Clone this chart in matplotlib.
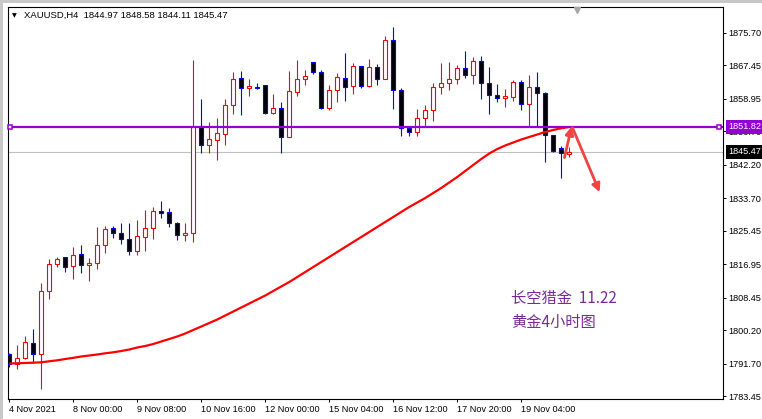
import matplotlib
matplotlib.use("Agg")
import matplotlib.pyplot as plt
import matplotlib.transforms as mtransforms
from matplotlib.patches import Rectangle

plt.rcParams['font.family'] = ['Liberation Sans', 'DejaVu Sans']

# ---------------- data ----------------
opens = [1794.12, 1791.58, 1793.03, 1796.84, 1794.20, 1810.04, 1816.89, 1818.67, 1816.39, 1819.51,
         1816.64, 1817.15, 1821.72, 1826.03, 1824.76, 1823.24, 1820.35, 1823.90, 1826.03, 1830.38,
         1830.10, 1827.30, 1824.26, 1824.76, 1852.01, 1847.11, 1848.45, 1849.90, 1857.26, 1864.12,
         1861.58, 1861.99, 1862.34, 1855.23, 1856.50, 1849.29, 1860.72, 1863.87, 1868.18, 1865.64,
         1856.65, 1861.07, 1864.12, 1862.04, 1867.17, 1862.16, 1866.91, 1863.87, 1873.77, 1861.10,
         1851.42, 1850.41, 1853.96, 1855.99, 1861.83, 1862.85, 1863.87, 1866.66, 1864.88, 1868.44,
         1862.85, 1859.80, 1858.99, 1859.37, 1863.10, 1857.52, 1861.83, 1860.31, 1849.67, 1846.35,
         1844.97]
highs = [1794.37, 1796.40, 1798.69, 1800.54, 1812.15, 1818.16, 1818.67, 1818.87, 1821.21, 1821.79,
         1818.42, 1826.29, 1826.62, 1826.62, 1827.30, 1827.30, 1828.14, 1830.68, 1831.44, 1832.97,
         1831.19, 1827.63, 1827.30, 1868.77, 1858.86, 1853.02, 1853.96, 1858.86, 1865.72, 1865.97,
         1863.87, 1863.05, 1862.42, 1860.13, 1858.10, 1865.97, 1868.77, 1866.23, 1868.26, 1866.23,
         1862.34, 1865.39, 1870.54, 1867.95, 1867.24, 1868.94, 1867.75, 1874.86, 1877.14, 1861.58,
         1851.93, 1856.33, 1857.26, 1862.88, 1868.00, 1868.18, 1867.50, 1871.05, 1869.60, 1869.86,
         1866.99, 1862.67, 1861.33, 1863.81, 1863.81, 1864.91, 1865.72, 1860.64, 1849.72, 1847.01,
         1846.60]
lows = [1790.74, 1790.39, 1792.77, 1791.76, 1785.31, 1808.01, 1816.28, 1815.02, 1813.09, 1814.76,
        1812.58, 1815.78, 1819.69, 1823.65, 1821.97, 1819.33, 1819.33, 1820.35, 1823.32, 1828.73,
        1826.24, 1823.14, 1822.81, 1822.43, 1845.23, 1845.23, 1843.38, 1847.06, 1855.18, 1854.88,
        1859.70, 1861.33, 1855.13, 1855.13, 1845.23, 1849.14, 1859.68, 1862.49, 1865.14, 1856.33,
        1856.07, 1858.18, 1858.23, 1860.01, 1861.73, 1861.83, 1862.42, 1863.82, 1856.40, 1849.55,
        1849.55, 1849.55, 1851.88, 1853.28, 1860.06, 1861.07, 1862.60, 1864.12, 1862.60, 1858.79,
        1855.06, 1858.18, 1856.83, 1858.36, 1856.07, 1851.70, 1851.88, 1842.94, 1845.36, 1838.88,
        1844.11]
closes = [1791.58, 1793.03, 1797.09, 1794.04, 1810.04, 1816.89, 1818.16, 1816.13, 1819.18, 1816.64,
          1817.22, 1821.72, 1825.78, 1824.76, 1823.24, 1820.35, 1824.08, 1826.03, 1830.38, 1830.00,
          1827.30, 1824.26, 1824.76, 1852.01, 1847.11, 1848.71, 1850.16, 1857.26, 1863.87, 1861.58,
          1862.09, 1861.73, 1855.23, 1856.50, 1849.34, 1860.89, 1863.87, 1864.63, 1865.64, 1856.65,
          1861.07, 1864.37, 1861.99, 1867.17, 1862.16, 1866.91, 1863.87, 1873.77, 1861.07, 1851.42,
          1850.41, 1853.96, 1855.99, 1861.83, 1862.85, 1863.87, 1866.66, 1864.88, 1868.44, 1862.85,
          1859.80, 1858.99, 1859.55, 1863.10, 1857.52, 1861.83, 1860.31, 1849.72, 1845.74, 1845.08,
          1845.47]
ma = [1791.71, 1791.76, 1791.84, 1791.91, 1792.01, 1792.27, 1792.52, 1792.85, 1793.15, 1793.48,
      1793.74, 1793.99, 1794.30, 1794.55, 1794.88, 1795.26, 1795.77, 1796.15, 1796.66, 1797.30,
      1797.93, 1798.57, 1799.33, 1800.22, 1801.10, 1801.99, 1802.88, 1803.90, 1804.91, 1805.93,
      1806.94, 1807.96, 1808.98, 1810.12, 1811.26, 1812.40, 1813.67, 1814.94, 1816.21, 1817.48,
      1818.75, 1820.02, 1821.29, 1822.56, 1823.83, 1825.10, 1826.37, 1827.64, 1828.91, 1830.18,
      1831.45, 1832.59, 1833.73, 1835.00, 1836.27, 1837.67, 1839.06, 1840.59, 1842.11, 1843.63,
      1845.03, 1846.17, 1847.06, 1847.82, 1848.58, 1849.22, 1849.85, 1850.49, 1851.00, 1851.43,
      1851.76]
x_label_idx = [0, 8, 16, 24, 32, 40, 48, 56, 64]
x_labels = ["4 Nov 2021", "8 Nov 00:00", "9 Nov 08:00", "10 Nov 16:00", "12 Nov 00:00",
            "15 Nov 04:00", "16 Nov 12:00", "17 Nov 20:00", "19 Nov 04:00"]
y_ticks = [1875.70, 1867.45, 1858.95, 1850.70, 1842.20, 1833.70, 1825.45, 1816.95,
           1808.45, 1800.20, 1791.70, 1783.45]
level_price = 1851.82
bid_price = 1845.47
header = "XAUUSD,H4  1844.97 1848.58 1844.11 1845.47"
note_line1 = "长空猎金  11.22"
note_line2 = "黄金4小时图"

# ---------------- figure ----------------
W, H = 762, 419
fig = plt.figure(figsize=(W / 100, H / 100), dpi=100, facecolor='white')
ax = fig.add_axes([8 / W, 1 - 398.7 / H, 714.7 / W, 391.7 / H])
ax.set_xlim(-0.1625, 89.18)
ax.set_ylim(1782.77, 1882.22)
ax.set_facecolor('white')
for s in ax.spines.values():
    s.set_color('black')
    s.set_linewidth(0.8)

# window borders
fig.patches.append(Rectangle((0, 0), 3 / W, 1, transform=fig.transFigure,
                             fc='#C8C8C8', ec='none', zorder=0))
fig.patches.append(Rectangle((0, 1 - 3 / H), 1, 3 / H, transform=fig.transFigure,
                             fc='#C8C8C8', ec='none', zorder=0))

BULL = '#FF0000'
BEAR = '#0000FF'
bw = 0.55
for i, (o, h, l, c) in enumerate(zip(opens, highs, lows, closes)):
    bull = c >= o
    col = BULL if bull else BEAR
    ax.vlines(i, l, h, color=col, lw=0.8, zorder=2)
    lo, hi = min(o, c), max(o, c)
    ax.add_patch(Rectangle((i - bw / 2, lo), bw, hi - lo,
                           fc='white' if bull else 'black', ec=col, lw=0.8, zorder=3))

# bid line
ax.axhline(bid_price, color='#C0C0C0', lw=0.8, zorder=1)
# moving average
ax.plot(range(len(ma)), ma, color='#FF0000', lw=1.6, zorder=4, solid_capstyle='butt')
# horizontal level
PURPLE = '#9400D3'
ax.axhline(level_price, color=PURPLE, lw=1.6, zorder=5)
bt = mtransforms.blended_transform_factory(ax.transAxes, ax.transData)
ax.plot([0.003, 0.995], [level_price, level_price], transform=bt, ls='none', marker='s',
        ms=3.2, mfc='white', mec=PURPLE, mew=1.1, zorder=6, clip_on=False)

# arrows
ARROW = '#F04444'
ax.annotate('', xy=(70.3, 1851.9), xytext=(69.4, 1844.0),
            arrowprops=dict(arrowstyle='-|>', color=ARROW, lw=2.0, mutation_scale=12,
                            shrinkA=0, shrinkB=0), zorder=7)
ax.annotate('', xy=(73.8, 1835.2), xytext=(70.4, 1851.6),
            arrowprops=dict(arrowstyle='-|>', color=ARROW, lw=2.0, mutation_scale=12,
                            shrinkA=0, shrinkB=0), zorder=7)

# ticks
ax.yaxis.tick_right()
ax.set_yticks(y_ticks)
ax.set_yticklabels([f"{v:.2f}" for v in y_ticks])
ax.tick_params(axis='y', direction='out', length=2.5, width=0.7, pad=1.8, labelsize=6.6)
ax.set_xticks(x_label_idx)
ax.set_xticklabels(x_labels)
ax.tick_params(axis='x', direction='out', length=2.5, width=0.7, pad=2.0, labelsize=6.6)
for lbl in ax.get_xticklabels():
    lbl.set_ha('left')

# price boxes on right axis
ax.text(1.0075, level_price, "1851.82", transform=bt, color='white', fontsize=6.6,
        va='center', ha='left', zorder=10,
        bbox=dict(boxstyle='square,pad=0.25', fc=PURPLE, ec='none'))
ax.text(1.0075, bid_price, "1845.47", transform=bt, color='white', fontsize=6.6,
        va='center', ha='left', zorder=10,
        bbox=dict(boxstyle='square,pad=0.25', fc='black', ec='none'))

# shift marker
ax.plot([(577 - 8) / 714.7], [1 - 3.5 / 391.7], transform=ax.transAxes, marker='v',
        ms=4, color='#A8A8A8', clip_on=False, zorder=8)

# header
fig.text(12 / W, 1 - 15.5 / H, "▼", fontsize=4.5, va='center', ha='left',
         family=['DejaVu Sans'])
fig.text(24 / W, 1 - 15.5 / H, header, fontsize=6.8, va='center', ha='left')

# annotation text
cjk = ['Noto Sans CJK SC', 'DejaVu Sans']
NOTE = '#7A2A98'
fig.text(511 / W, 1 - 298 / H, note_line1, fontsize=11, color=NOTE, va='center',
         ha='left', family=cjk)
fig.text(511 / W, 1 - 322 / H, note_line2, fontsize=11, color=NOTE, va='center',
         ha='left', family=cjk)

fig.savefig('out.png', dpi=100, facecolor='white')
